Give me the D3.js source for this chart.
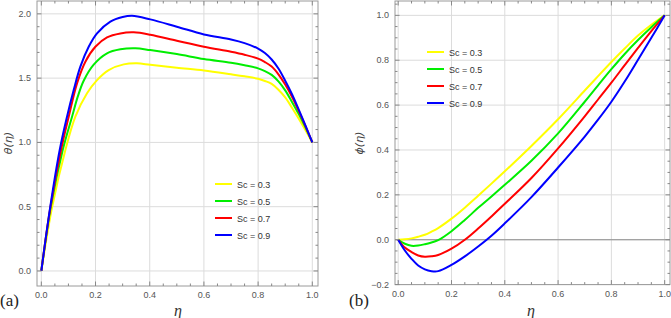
<!DOCTYPE html>
<html><head><meta charset="utf-8">
<script src="https://cdn.jsdelivr.net/npm/d3@7"></script>
<style>body{margin:0;background:#fff}svg{display:block}</style>
</head><body>
<svg id="c" width="671" height="318"></svg>
<script>
// ---- data ----
const scLabels = ["Sc = 0.3", "Sc = 0.5", "Sc = 0.7", "Sc = 0.9"];
const colors = ["#ffff00", "#00ee00", "#ff0000", "#0000ff"];

// panel (a): theta(eta)
const etaA03 = [0, 0.04, 0.0887, 0.1256, 0.1686, 0.2055, 0.2486, 0.304, 0.353, 0.402, 0.5, 0.6, 0.7, 0.75, 0.8, 0.825, 0.85, 0.875, 0.9, 0.925, 0.95, 0.975, 1.0];
const thetaSc03 = [0, 0.5, 0.941, 1.200, 1.382, 1.485, 1.563, 1.607, 1.615, 1.604, 1.581, 1.56, 1.53, 1.514, 1.495, 1.478, 1.455, 1.41, 1.35, 1.27, 1.185, 1.095, 1.0];
const etaA05 = [0, 0.035, 0.0789, 0.1133, 0.135, 0.1563, 0.1932, 0.2424, 0.2916, 0.347, 0.402, 0.5, 0.6, 0.7, 0.75, 0.8, 0.825, 0.85, 0.875, 0.9, 0.925, 0.95, 0.975, 1.0];
const thetaSc05 = [0, 0.5, 0.941, 1.200, 1.36, 1.48, 1.605, 1.693, 1.724, 1.732, 1.718, 1.687, 1.649, 1.62, 1.60, 1.576, 1.555, 1.525, 1.475, 1.405, 1.315, 1.22, 1.115, 1.0];
const etaA07 = [0, 0.033, 0.0727, 0.101, 0.1317, 0.1625, 0.1994, 0.2424, 0.2916, 0.341, 0.402, 0.5, 0.6, 0.7, 0.75, 0.8, 0.825, 0.85, 0.875, 0.9, 0.925, 0.95, 0.975, 1.0];
const thetaSc07 = [0, 0.49, 0.941, 1.200, 1.459, 1.628, 1.744, 1.817, 1.848, 1.856, 1.838, 1.791, 1.744, 1.705, 1.682, 1.652, 1.625, 1.59, 1.53, 1.45, 1.355, 1.245, 1.125, 1.0];
const etaA09 = [0, 0.033, 0.0678, 0.0948, 0.1194, 0.144, 0.1748, 0.2055, 0.2547, 0.3, 0.3347, 0.402, 0.5, 0.6, 0.7, 0.75, 0.8, 0.825, 0.85, 0.875, 0.9, 0.925, 0.95, 0.975, 1.0];
const thetaSc09 = [0, 0.5, 0.941, 1.200, 1.407, 1.589, 1.744, 1.848, 1.939, 1.975, 1.985, 1.957, 1.900, 1.84, 1.80, 1.772, 1.73, 1.695, 1.645, 1.575, 1.48, 1.375, 1.255, 1.13, 1.0];

// panel (b): phi(eta)
const etaB = [0, 0.025, 0.05, 0.075, 0.1, 0.125, 0.15, 0.2, 0.25, 0.3, 0.35, 0.4, 0.5, 0.6, 0.7, 0.75, 0.8, 0.85, 0.9, 0.95, 1.0];
const phiSc03 = [0, 0.002, 0.006, 0.013, 0.022, 0.036, 0.052, 0.094, 0.143, 0.196, 0.25, 0.305, 0.418, 0.537, 0.665, 0.729, 0.792, 0.852, 0.91, 0.958, 1.0];
const phiSc05 = [0, -0.018, -0.027, -0.026, -0.02, -0.012, -0.002, 0.038, 0.088, 0.142, 0.193, 0.245, 0.352, 0.474, 0.615, 0.688, 0.76, 0.828, 0.89, 0.947, 1.0];
const phiSc07 = [0, -0.035, -0.055, -0.07, -0.076, -0.074, -0.068, -0.04, 0.0, 0.05, 0.104, 0.16, 0.275, 0.407, 0.55, 0.625, 0.70, 0.778, 0.855, 0.93, 1.0];
const phiSc09 = [0, -0.048, -0.085, -0.115, -0.132, -0.14, -0.14, -0.112, -0.074, -0.03, 0.018, 0.073, 0.19, 0.322, 0.46, 0.535, 0.615, 0.705, 0.802, 0.90, 1.0];

const xTicksA = [0, 0.2, 0.4, 0.6, 0.8, 1.0];
const yTicksA = [0, 0.5, 1.0, 1.5, 2.0];
const xTicksB = [0, 0.2, 0.4, 0.6, 0.8, 1.0];
const yTicksB = [-0.2, 0, 0.2, 0.4, 0.6, 0.8, 1.0];

const svg = d3.select("#c");
const fmt = d3.format(".1f");
const fmtNeg = v => (v < 0 ? "\u2212" + fmt(-v) : fmt(v));

function panel(o) {
  const g = svg.append("g");
  const x = d3.scaleLinear().domain(o.xd).range(o.xr);
  const y = d3.scaleLinear().domain(o.yd).range(o.yr);
  const [x0, x1] = o.xr, [y1, y0] = [o.yr[0], o.yr[1]];
  // grid
  g.selectAll(".gx").data(o.xt).join("line")
    .attr("x1", d => x(d)).attr("x2", d => x(d)).attr("y1", y0).attr("y2", y1)
    .attr("stroke", "#dcdcdc").attr("stroke-width", 1);
  g.selectAll(".gy").data(o.yt).join("line")
    .attr("y1", d => y(d)).attr("y2", d => y(d)).attr("x1", x0).attr("x2", x1)
    .attr("stroke", "#dcdcdc").attr("stroke-width", 1);
  if (o.zeroLine) {
    g.append("line").attr("x1", x0).attr("x2", x1).attr("y1", y(0)).attr("y2", y(0))
      .attr("stroke", "#8c8c8c").attr("stroke-width", 1.2);
  }
  // curves
  const line = d3.line().x(d => x(d[0])).y(d => y(d[1])).curve(d3.curveCatmullRom.alpha(0.5));
  o.series.forEach((s, i) => {
    const et = o.etas[i];
    g.append("path").datum(et.map((e, k) => [e, s[k]]))
      .attr("d", line).attr("fill", "none").attr("stroke", colors[i]).attr("stroke-width", 2)
      .attr("stroke-linejoin", "round");
  });
  // frame
  g.append("rect").attr("x", x0).attr("y", y0).attr("width", x1 - x0).attr("height", y1 - y0)
    .attr("fill", "none").attr("stroke", "#9a9a9a").attr("stroke-width", 1);
  // ticks (all sides)
  const xMinor = d3.range(0, 1.0001, o.xMinorStep);
  const yMinor = d3.range(o.yt[0], o.yd[1], o.yMinorStep).filter(v => y(v) >= y0 - 0.5);
  const isMajor = (v, arr) => arr.some(t => Math.abs(t - v) < 1e-6);
  xMinor.forEach(v => {
    const L = isMajor(v, o.xt) ? 4.5 : 2.5;
    g.append("line").attr("x1", x(v)).attr("x2", x(v)).attr("y1", y1).attr("y2", y1 - L).attr("stroke", "#888");
    g.append("line").attr("x1", x(v)).attr("x2", x(v)).attr("y1", y0).attr("y2", y0 + L).attr("stroke", "#888");
  });
  yMinor.forEach(v => {
    const L = isMajor(v, o.yt) ? 4.5 : 2.5;
    g.append("line").attr("y1", y(v)).attr("y2", y(v)).attr("x1", x0).attr("x2", x0 + L).attr("stroke", "#888");
    g.append("line").attr("y1", y(v)).attr("y2", y(v)).attr("x1", x1).attr("x2", x1 - L).attr("stroke", "#888");
  });
  // tick labels
  g.selectAll(".tx").data(o.xt).join("text")
    .attr("x", d => x(d)).attr("y", y1 + 12).attr("text-anchor", "middle")
    .attr("font-family", "Liberation Sans, Arial, sans-serif").attr("font-size", 9).attr("fill", "#555")
    .text(fmt);
  g.selectAll(".ty").data(o.yt).join("text")
    .attr("x", x0 - 6).attr("y", d => y(d) + 3).attr("text-anchor", "end")
    .attr("font-family", "Liberation Sans, Arial, sans-serif").attr("font-size", 9).attr("fill", "#555")
    .text(fmtNeg);
  // axis labels
  g.append("text").attr("x", o.xlabX).attr("y", 316).attr("text-anchor", "middle")
    .attr("font-family", "Liberation Serif, serif").attr("font-style", "italic").attr("font-size", 16).attr("fill", "#333")
    .text("\u03B7");
  g.append("text").attr("transform", `translate(${o.ylabX},${o.ylabY}) rotate(-90)`).attr("text-anchor", "middle")
    .attr("font-family", "DejaVu Sans, sans-serif").attr("font-style", "italic").attr("font-size", 11).attr("fill", "#444")
    .text(o.ylab);
  g.append("text").attr("x", o.tagX).attr("y", 306)
    .attr("font-family", "Liberation Serif, serif").attr("font-size", 17).attr("fill", "#222")
    .text(o.tag);
  // legend
  scLabels.forEach((t, i) => {
    const ly = o.legY + i * 17;
    g.append("line").attr("x1", o.legX).attr("x2", o.legX + 17).attr("y1", ly).attr("y2", ly)
      .attr("stroke", colors[i]).attr("stroke-width", 2);
    g.append("text").attr("x", o.legX + 22).attr("y", ly + 3.5)
      .attr("font-family", "Liberation Sans, Arial, sans-serif").attr("font-size", 9).attr("fill", "#333")
      .text(t);
  });
}

panel({
  xd: [-0.016, 1.021], xr: [37, 318],
  yd: [-0.117, 2.10], yr: [286, 1],
  xt: xTicksA, yt: yTicksA, xMinorStep: 0.05, yMinorStep: 0.1,
  etas: [etaA03, etaA05, etaA07, etaA09], series: [thetaSc03, thetaSc05, thetaSc07, thetaSc09],
  xlabX: 178, ylabX: 12, ylabY: 143, ylab: "\u03B8(\u03B7)", tag: "(a)", tagX: 0,
  legX: 215, legY: 184, zeroLine: false
});
panel({
  xd: [-0.012, 1.02], xr: [395, 670],
  yd: [-0.2, 1.064], yr: [284.6, 1],
  xt: xTicksB, yt: yTicksB, xMinorStep: 0.05, yMinorStep: 0.05,
  etas: [etaB, etaB, etaB, etaB], series: [phiSc03, phiSc05, phiSc07, phiSc09],
  xlabX: 531, ylabX: 363, ylabY: 143, ylab: "\u03D5(\u03B7)", tag: "(b)", tagX: 349,
  legX: 427, legY: 52, zeroLine: true
});
</script>
</body></html>
